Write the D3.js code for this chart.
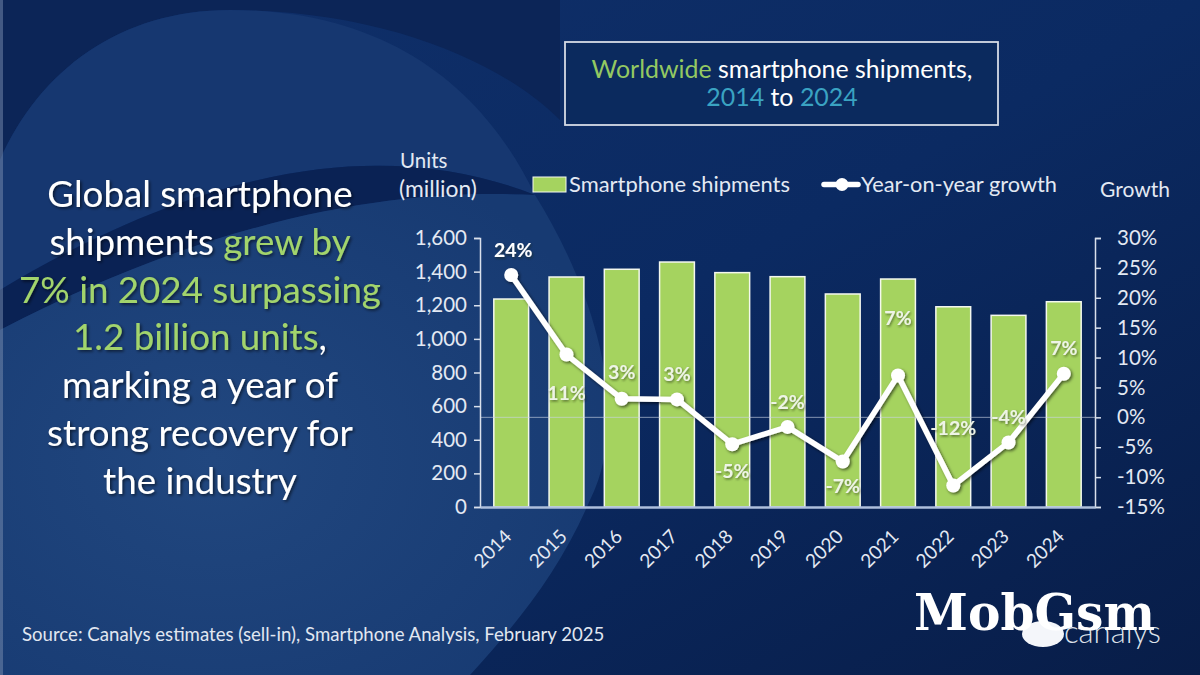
<!DOCTYPE html>
<html>
<head>
<meta charset="utf-8">
<script src="https://cdn.jsdelivr.net/npm/d3@7"></script>
<style>
html,body{margin:0;padding:0;background:#0b2658;}
svg{display:block;}
</style>
</head>
<body>
<svg id="chart" width="1200" height="675" font-family="Lato, 'Open Sans', sans-serif"></svg>
<script>
// ---------- DATA ----------
const years = ["2014","2015","2016","2017","2018","2019","2020","2021","2022","2023","2024"];
const shipments = [1237, 1368, 1414, 1457, 1394, 1370, 1267, 1356, 1191, 1140, 1221];
const growth = [23.8, 10.5, 3.1, 3.0, -4.5, -1.6, -7.4, 7.0, -11.4, -4.2, 7.3];
const growthLabels = ["24%","11%","3%","3%","-5%","-2%","-7%","7%","-12%","-4%","7%"];
const unitTicks = [0,200,400,600,800,1000,1200,1400,1600];
const growthTicks = [-15,-10,-5,0,5,10,15,20,25,30];

// ---------- SETUP ----------
const W = 1200, H = 675;
const svg = d3.select("#chart");
const defs = svg.append("defs");

const bgGrad = defs.append("linearGradient").attr("id","bg").attr("x1","0").attr("y1","0").attr("x2","1").attr("y2","1");
bgGrad.append("stop").attr("offset","0").attr("stop-color","#10306a");
bgGrad.append("stop").attr("offset","0.5").attr("stop-color","#0b2a62");
bgGrad.append("stop").attr("offset","1").attr("stop-color","#081d48");

const lightGrad = defs.append("radialGradient").attr("id","lite").attr("cx","0.35").attr("cy","0.55").attr("r","0.7");
lightGrad.append("stop").attr("offset","0").attr("stop-color","#21477f");
lightGrad.append("stop").attr("offset","1").attr("stop-color","#173a72");

const sh = defs.append("filter").attr("id","shadow").attr("x","-20%").attr("y","-20%").attr("width","140%").attr("height","140%");
sh.append("feDropShadow").attr("dx",1.5).attr("dy",1.5).attr("stdDeviation",1.5).attr("flood-color","#000").attr("flood-opacity",0.6);
const sh2 = defs.append("filter").attr("id","shadow2").attr("x","-20%").attr("y","-20%").attr("width","140%").attr("height","140%");
sh2.append("feDropShadow").attr("dx",1).attr("dy",1.5).attr("stdDeviation",1.2).attr("flood-color","#1a2a10").attr("flood-opacity",0.55);

// ---------- BACKGROUND ----------
svg.append("rect").attr("width",W).attr("height",H).attr("fill","url(#bg)");
svg.append("path")
  .attr("d","M0,0 L560,0 L560,120 C500,60 380,10 230,10 C120,10 40,70 0,160 Z")
  .attr("fill","#0c2557");
svg.append("path")
  .attr("d","M0,160 C40,70 120,10 230,10 C380,10 480,80 535,195 C420,150 250,140 0,290 Z")
  .attr("fill","#163770");
svg.append("path")
  .attr("d","M0,290 C250,140 420,150 535,195 C430,190 250,200 0,330 Z")
  .attr("fill","#0a2254");
svg.append("path")
  .attr("d","M0,330 C250,200 430,190 535,195 C600,300 630,420 590,500 C560,570 520,620 470,675 L0,675 Z")
  .attr("fill","url(#lite)");
svg.append("rect").attr("x",0).attr("y",0).attr("width",3).attr("height",H).attr("fill","#7a8db0").attr("opacity",0.5);

function fit(sel, target){
  const w = sel.node().getComputedTextLength();
  const fs = parseFloat(sel.attr("font-size"));
  const f = fs * target / w;
  sel.attr("font-size", f);
  return f;
}

// ---------- TITLE BOX ----------
svg.append("rect").attr("x",565).attr("y",42).attr("width",433).attr("height",83)
  .attr("fill","#0b2a5e").attr("stroke","#d5dbe6").attr("stroke-width",1.8);
const t1 = svg.append("text").attr("x",782).attr("y",78).attr("text-anchor","middle").attr("font-size",22);
t1.append("tspan").attr("fill","#93c862").text("Worldwide");
t1.append("tspan").attr("fill","#ffffff").text(" smartphone shipments,");
const t2 = svg.append("text").attr("x",782).attr("y",106).attr("text-anchor","middle").attr("font-size",22);
t2.append("tspan").attr("fill","#3aa3c2").text("2014");
t2.append("tspan").attr("fill","#ffffff").text(" to ");
t2.append("tspan").attr("fill","#3aa3c2").text("2024");
t2.attr("font-size", fit(t1, 381));

// ---------- LEFT TEXT ----------
const green = "#a2d46c";
const leftLines = [
  [["Global smartphone","#fff"]],
  [["shipments ","#fff"],["grew by",green]],
  [["7% in 2024 surpassing",green]],
  [["1.2 billion units",green],[",","#fff"]],
  [["marking a year of","#fff"]],
  [["strong recovery for","#fff"]],
  [["the industry","#fff"]]
];
const leftG = svg.append("g").attr("filter","url(#shadow)");
const leftTexts = leftLines.map((parts,i)=>{
  const t = leftG.append("text").attr("x",200).attr("y",207 + i*47.8)
    .attr("text-anchor","middle").attr("font-size",32);
  parts.forEach(p=>t.append("tspan").attr("fill",p[1]).text(p[0]));
  return t;
});
{
  const f = fit(leftTexts[2], 362);
  leftTexts.forEach(t=>t.attr("font-size", f));
}

// ---------- SCALES ----------
const plotL = 480, plotR = 1095, plotT = 238, plotB = 507;
const x = d3.scaleBand().domain(years).range([plotL, plotR]).paddingInner(0.37).paddingOuter(0.25);
const yL = d3.scaleLinear().domain([0,1600]).range([plotB, plotT]);
const yR = d3.scaleLinear().domain([-15,30]).range([plotB, plotT]);

const axisColor = "#d9e0ec";
const tickText = "#e3e9f3";

svg.append("g").selectAll("rect").data(years).join("rect")
  .attr("x", d=>x(d)).attr("width", x.bandwidth())
  .attr("y", (d,i)=>yL(shipments[i])).attr("height",(d,i)=>yL(0)-yL(shipments[i]))
  .attr("fill","#a5d35f").attr("stroke","#f4f8ee").attr("stroke-width",1.5);

svg.append("line").attr("x1",plotL).attr("x2",plotR).attr("y1",yR(0)).attr("y2",yR(0))
  .attr("stroke","#c9d3e3").attr("stroke-width",0.8).attr("opacity",0.8);

const axL = svg.append("g").attr("transform",`translate(${plotL},0)`)
  .call(d3.axisLeft(yL).tickValues(unitTicks).tickFormat(d3.format(",")).tickSize(6).tickPadding(7));
const axR = svg.append("g").attr("transform",`translate(${plotR},0)`)
  .call(d3.axisRight(yR).tickValues(growthTicks).tickFormat(d=>d+"%").tickSize(6).tickPadding(16));
[axL, axR].forEach(a=>{
  a.attr("font-family",null).attr("font-size",null);
  a.select(".domain").attr("stroke",axisColor).attr("stroke-width",1.5);
  a.selectAll(".tick line").attr("stroke",axisColor).attr("stroke-width",1.5);
  a.selectAll(".tick text").attr("fill",tickText).attr("font-size",20.5);
});
const axB = svg.append("g").attr("transform",`translate(0,${plotB})`)
  .call(d3.axisBottom(x).tickSize(0));
axB.attr("font-family",null).attr("font-size",null);
axB.select(".domain").attr("stroke","#aebfdc").attr("stroke-width",2.5);
axB.selectAll(".tick text").attr("fill",tickText).attr("font-size",19)
  .attr("text-anchor","end").attr("x",0).attr("y",0).attr("dy","0.35em")
  .attr("transform","translate(-3,26) rotate(-45)");

// growth line
const cx = d=>x(d) + x.bandwidth()/2;
const lineGen = d3.line().x((d,i)=>cx(years[i])).y(d=>yR(d));
const lineG = svg.append("g").attr("filter","url(#shadow)");
lineG.append("path").datum(growth).attr("d",lineGen).attr("fill","none")
  .attr("stroke","#ffffff").attr("stroke-width",5.5).attr("stroke-linejoin","round");
lineG.selectAll("circle").data(growth).join("circle")
  .attr("cx",(d,i)=>cx(years[i])).attr("cy",d=>yR(d)).attr("r",7).attr("fill","#ffffff");

// data labels
const labelDy = [-26, 38, -27, -26, 26, -25, 24, -58, -58, -26, -26];
svg.append("g").attr("filter","url(#shadow2)").selectAll("text").data(growthLabels).join("text")
  .attr("x",(d,i)=>cx(years[i]) + (i===0?2:0))
  .attr("y",(d,i)=>yR(growth[i]) + labelDy[i])
  .attr("text-anchor","middle").attr("dominant-baseline","central")
  .attr("font-size",19.5).attr("font-weight","bold")
  .attr("fill",(d,i)=> i===0 ? "#ffffff" : "#eef4e6")
  .text(d=>d);

// axis titles
svg.append("text").attr("x",400).attr("y",168).attr("fill",tickText).attr("font-size",20.5).text("Units");
const mil = svg.append("text").attr("x",399).attr("y",197).attr("fill",tickText).attr("font-size",20.5).text("(million)");
fit(mil, 78);
const gr = svg.append("text").attr("x",1100).attr("y",197).attr("fill",tickText).attr("font-size",20.5).text("Growth");
fit(gr, 70);

// legend
svg.append("rect").attr("x",533).attr("y",177).attr("width",33).attr("height",15).attr("fill","#a5d35f").attr("stroke","#f4f8ee").attr("stroke-width",1);
const lg1 = svg.append("text").attr("x",569).attr("y",192).attr("fill",tickText).attr("font-size",18.5).text("Smartphone shipments");
fit(lg1, 221);
svg.append("line").attr("x1",824).attr("x2",858).attr("y1",184.5).attr("y2",184.5).attr("stroke","#fff").attr("stroke-width",5.5).attr("stroke-linecap","round");
svg.append("circle").attr("cx",842).attr("cy",184.5).attr("r",6.5).attr("fill","#fff");
const lg2 = svg.append("text").attr("x",861).attr("y",192).attr("fill",tickText).attr("font-size",18.5).text("Year-on-year growth");
fit(lg2, 196);

// source
const src = svg.append("text").attr("x",22).attr("y",641).attr("fill","#e1e7f1").attr("font-size",16.5)
  .text("Source: Canalys estimates (sell-in), Smartphone Analysis, February 2025");
fit(src, 583);

// logo
svg.append("ellipse").attr("cx",1043).attr("cy",634).attr("rx",21).attr("ry",13).attr("fill","#f4f6fa");
svg.append("text").attr("x",1064).attr("y",643).attr("fill","#dde2ea").attr("font-size",31).attr("font-weight",300).text("canalys");
svg.append("text").attr("x",914).attr("y",630).attr("fill","#ffffff").attr("font-size",50)
  .attr("font-family","'DejaVu Serif', 'Liberation Serif', serif").attr("font-weight","bold")
  .attr("textLength",241).attr("lengthAdjust","spacingAndGlyphs").text("MobGsm");
</script>
</body>
</html>
